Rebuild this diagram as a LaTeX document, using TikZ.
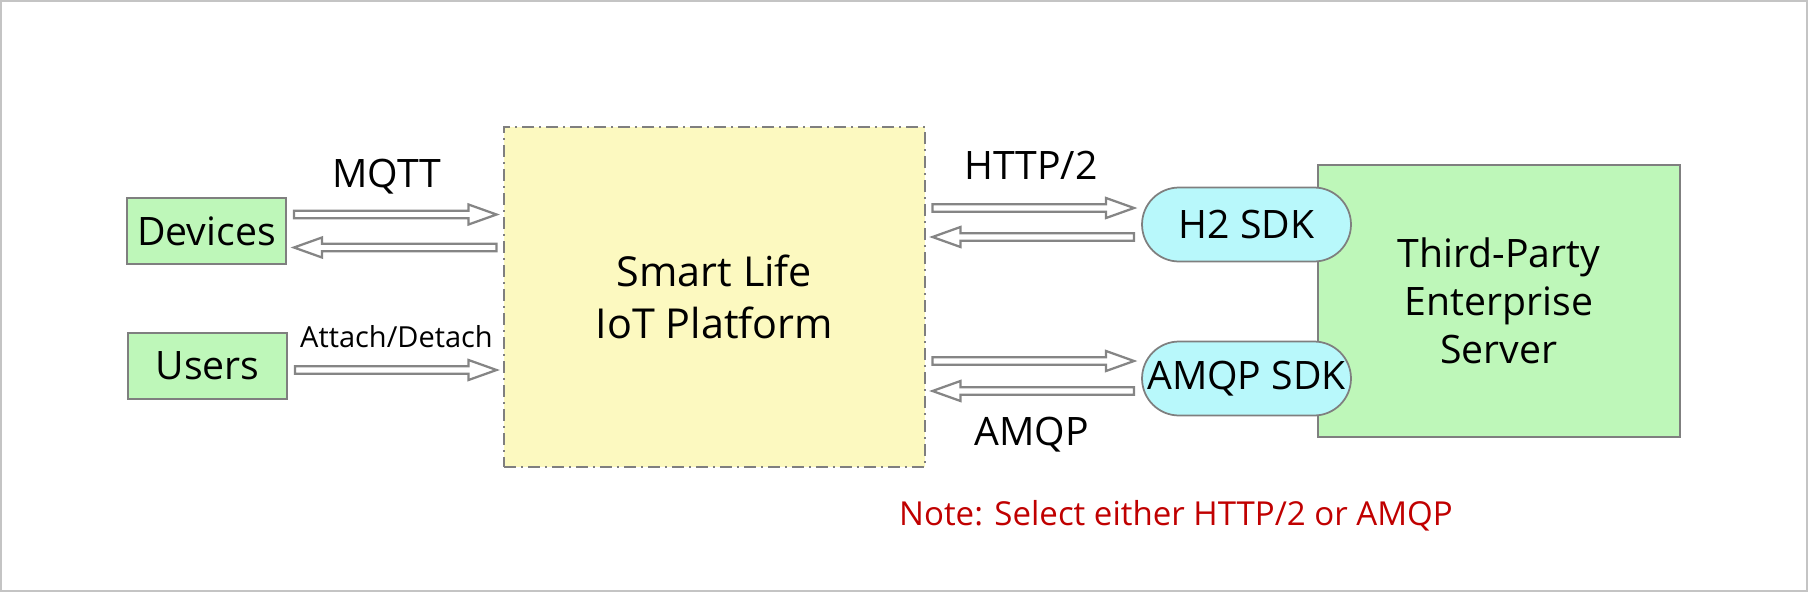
\documentclass[tikz,border=0pt]{standalone}
\usepackage{fontspec}
\setmainfont{Open Sans}
\usetikzlibrary{calc}
\definecolor{slLine}{HTML}{7F7F7F}
\definecolor{slArrow}{HTML}{858585}
\definecolor{slGreen}{HTML}{BEF7B9}
\definecolor{slYellow}{HTML}{FCF9C0}
\definecolor{slCyan}{HTML}{B8F8FB}
\definecolor{slNote}{HTML}{C00000}
\definecolor{slFrame}{HTML}{C4C4C4}
\tikzset{
  slnode/.style={
    draw=slLine, line width=0.035cm, align=center, inner sep=0pt,
    font=\fontsize{22.3}{27.3}\selectfont
  },
  client/.style={slnode, fill=slGreen, minimum width=3.18cm, minimum height=1.32cm, outer sep=0.16cm},
  platform/.style={
    slnode, fill=slYellow, line width=0.045cm,
    dash pattern=on 0.24cm off 0.1cm on 0.04cm off 0.1cm,
    minimum width=8.42cm, minimum height=6.8cm, outer sep=0.15cm,
    font=\fontsize{23.5}{29.6}\selectfont
  },
  server/.style={slnode, fill=slGreen, minimum width=7.24cm, minimum height=5.44cm},
  sdk/.style={slnode, fill=slCyan, rounded corners=0.74cm, minimum width=4.18cm, minimum height=1.48cm, outer sep=0.16cm},
  proto/.style={font=\fontsize{22.3}{27}\selectfont, anchor=base},
  tag/.style={font=\fontsize{16.5}{20}\selectfont, anchor=base},
  note/.style={font=\fontsize{18.8}{23}\selectfont, text=slNote, anchor=base},
  hollow/.style={
    draw=slArrow, fill=white, line width=0.045cm, line join=miter,
    to path={let \p1=(\tikztostart), \p2=(\tikztotarget) in
      ($(\p1)!0.075cm!90:(\p2)$)
      -- ($($(\p2)!0.56cm!(\p1)$)!0.075cm!-90:(\p1)$)
      -- ($($(\p2)!0.56cm!(\p1)$)!0.2cm!-90:(\p1)$)
      -- (\p2)
      -- ($($(\p2)!0.56cm!(\p1)$)!0.2cm!90:(\p1)$)
      -- ($($(\p2)!0.56cm!(\p1)$)!0.075cm!90:(\p1)$)
      -- ($(\p1)!0.075cm!-90:(\p2)$)
      -- cycle}
  }
}
\begin{document}
\begin{tikzpicture}[x=0.02cm, y=-0.02cm]
  \useasboundingbox (0,0) rectangle (1808,592);
  \draw[slFrame, line width=0.04cm] (1,1) rectangle (1807,591);

  % boxes
  \node[client] (dev) at (206.5,231) {Devices};
  \node[client] (usr) at (207.5,366) {Users};
  \node[platform] (plat) at (714.5,297) {Smart Life\\IoT Platform};
  \node[server] (srv) at (1499,301) {Third-Party\\Enterprise\\Server};
  \node[sdk] (htwo) at (1246.5,224.5) {H2 SDK};
  \node[sdk] (amqp) at (1246.5,378.5) {AMQP SDK};

  % labels
  \node[proto] (mqttlbl) at (387,187) {MQTT};
  \node[tag] (attlbl) at (396.5,347) {Attach/Detach};
  \node[proto] (httplbl) at (1031,179) {HTTP/2};
  \node[proto] (amqplbl) at (1031.5,445) {AMQP};
  \node[note] (notelbl) at (1176,525) {Note: Select either HTTP/2 or AMQP};

  % devices and users
  \draw[hollow] ([yshift=0.33cm]dev.east) to ([yshift=0.33cm]dev.east -| plat.west);
  \draw[hollow] ([yshift=-0.33cm]dev.east -| plat.west) to ([yshift=-0.33cm]dev.east);
  \draw[hollow] ([yshift=-0.08cm]usr.east) to ([yshift=-0.08cm]usr.east -| plat.west);

  % server side
  \draw[hollow] ([yshift=0.33cm]htwo.west -| plat.east) to ([yshift=0.33cm]htwo.west);
  \draw[hollow] ([yshift=-0.25cm]htwo.west) to ([yshift=-0.25cm]htwo.west -| plat.east);
  \draw[hollow] ([yshift=0.35cm]amqp.west -| plat.east) to ([yshift=0.35cm]amqp.west);
  \draw[hollow] ([yshift=-0.25cm]amqp.west) to ([yshift=-0.25cm]amqp.west -| plat.east);
\end{tikzpicture}
\end{document}
